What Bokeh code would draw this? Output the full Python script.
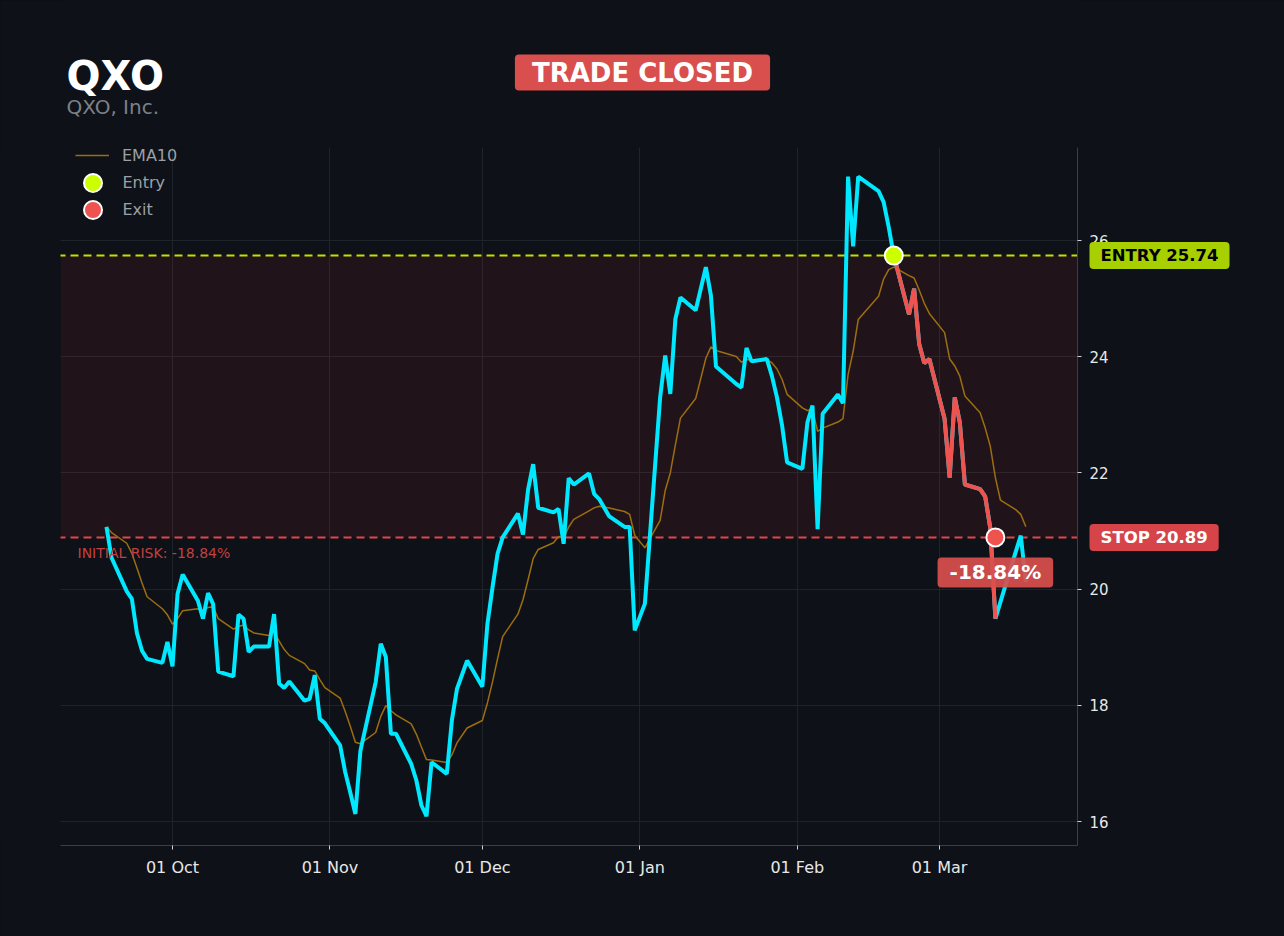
import pandas as pd
from datetime import datetime, timedelta
from bokeh.plotting import figure
from bokeh.models import (ColumnDataSource, Span, BoxAnnotation, Label, Legend, LegendItem,
                          DatetimeTickFormatter, MonthsTicker, SingleIntervalTicker, Range1d)
from bokeh.embed import file_html
from bokeh.resources import INLINE

# ---------------- data ----------------
symbol = "QXO"
company = "QXO, Inc."
status = "TRADE CLOSED"

dates = [
    "2025-09-18", "2025-09-19", "2025-09-22", "2025-09-23", "2025-09-24", "2025-09-25", "2025-09-26",
    "2025-09-29", "2025-09-30", "2025-10-01", "2025-10-02", "2025-10-03",
    "2025-10-06", "2025-10-07", "2025-10-08", "2025-10-09", "2025-10-10",
    "2025-10-13", "2025-10-14", "2025-10-15", "2025-10-16", "2025-10-17",
    "2025-10-20", "2025-10-21", "2025-10-22", "2025-10-23", "2025-10-24",
    "2025-10-27", "2025-10-28", "2025-10-29", "2025-10-30", "2025-10-31",
    "2025-11-03", "2025-11-04", "2025-11-05", "2025-11-06", "2025-11-07",
    "2025-11-10", "2025-11-11", "2025-11-12", "2025-11-13", "2025-11-14",
    "2025-11-17", "2025-11-18", "2025-11-19", "2025-11-20", "2025-11-21",
    "2025-11-24", "2025-11-25", "2025-11-26", "2025-11-28",
    "2025-12-01", "2025-12-02", "2025-12-03", "2025-12-04", "2025-12-05",
    "2025-12-08", "2025-12-09", "2025-12-10", "2025-12-11", "2025-12-12",
    "2025-12-15", "2025-12-16", "2025-12-17", "2025-12-18", "2025-12-19",
    "2025-12-22", "2025-12-23", "2025-12-24", "2025-12-26",
    "2025-12-29", "2025-12-30", "2025-12-31", "2026-01-02",
    "2026-01-05", "2026-01-06", "2026-01-07", "2026-01-08", "2026-01-09",
    "2026-01-12", "2026-01-13", "2026-01-14", "2026-01-15", "2026-01-16",
    "2026-01-20", "2026-01-21", "2026-01-22", "2026-01-23",
    "2026-01-26", "2026-01-27", "2026-01-28", "2026-01-29", "2026-01-30",
    "2026-02-02", "2026-02-03", "2026-02-04", "2026-02-05", "2026-02-06",
    "2026-02-09", "2026-02-10", "2026-02-11", "2026-02-12", "2026-02-13",
    "2026-02-17", "2026-02-18", "2026-02-19", "2026-02-20",
    "2026-02-23", "2026-02-24", "2026-02-25", "2026-02-26", "2026-02-27",
    "2026-03-02", "2026-03-03", "2026-03-04", "2026-03-05", "2026-03-06",
    "2026-03-09", "2026-03-10", "2026-03-11", "2026-03-12", "2026-03-13",
    "2026-03-16", "2026-03-17", "2026-03-18",
]
closes = [
    21.07, 20.54, 19.96, 19.83, 19.24, 18.94, 18.80,
    18.73, 19.09, 18.67, 19.92, 20.25,
    19.80, 19.49, 19.93, 19.74, 18.58,
    18.50, 19.56, 19.49, 18.92, 19.01,
    19.01, 19.57, 18.37, 18.30, 18.41,
    18.08, 18.11, 18.52, 17.77, 17.69,
    17.31, 16.85, 16.50, 16.13, 17.22,
    18.40, 19.06, 18.83, 17.51, 17.51,
    16.99, 16.71, 16.28, 16.09, 17.02,
    16.82, 17.74, 18.28, 18.77,
    18.32, 19.40, 20.03, 20.61, 20.89,
    21.30, 20.94, 21.71, 22.15, 21.40,
    21.32, 21.38, 20.78, 21.91, 21.80,
    21.99, 21.64, 21.55, 21.25,
    21.07, 21.07, 19.29, 19.75,
    23.30, 24.02, 23.36, 24.65, 25.02,
    24.80, 25.17, 25.54, 25.05, 23.83,
    23.53, 23.47, 24.15, 23.92,
    23.96, 23.67, 23.30, 22.82, 22.18,
    22.07, 22.87, 23.16, 21.03, 23.02,
    23.35, 23.20, 27.10, 25.90, 27.10,
    26.85, 26.66, 26.23, 25.74,
    24.73, 25.17, 24.22, 23.89, 23.96,
    22.93, 21.92, 23.30, 22.87, 21.80,
    21.72, 21.59, 21.05, 19.49, 19.78,
    20.64, 20.92, 20.12,
]
entry_date = "2026-02-20"
entry_price = 25.74
exit_date = "2026-03-12"
stop_price = 20.89
initial_risk_pct = -18.84
result_pct = -18.84
ema_span = 10
y_ticks_interval = 2

# ---------------- styles ----------------
BG = "#0e1117"
GRID = "#1f232a"
AXIS = "#3a3f46"
CYAN = "#00e8ff"
RED_LINE = "#ef5350"
EMA_C = "#9c6e10"
LIME = "#ccff00"
ENTRY_LINE = "#c4e000"
ENTRY_BG = "#a8d000"
STOP_LINE = "#e0474c"
STOP_BG = "#d6444a"
BADGE_BG = "#d94f4d"
FONT = "DejaVu Sans"

# ---------------- layout geometry (canvas pixels) ----------------
W, H = 1284, 936
ANCHOR_DATE = datetime(2025, 10, 1)
ANCHOR_PX, PX_PER_DAY = 172.0, 5.0795
ANCHOR_VAL, ANCHOR_PY, PX_PER_UNIT = 26.0, 240.0, 58.1
EPOCH = datetime(1970, 1, 1)


def px_to_date(px):
    return ANCHOR_DATE + timedelta(days=(px - ANCHOR_PX) / PX_PER_DAY)


def py_to_val(py):
    return ANCHOR_VAL + (ANCHOR_PY - py) / PX_PER_UNIT


def ms(d):
    return (d - EPOCH).total_seconds() * 1000.0


x_left, x_right = px_to_date(60), px_to_date(1077)
y_top, y_bot = py_to_val(147), py_to_val(845)

# ---------------- derived series ----------------
dt = pd.to_datetime(dates)
close = pd.Series(closes, index=dt)
ema = close.ewm(span=ema_span, adjust=False).mean()
src = ColumnDataSource(dict(x=dt, close=closes, ema=ema.values))

e_dt = pd.Timestamp(entry_date)
x_dt = pd.Timestamp(exit_date)
mask = (dt >= e_dt) & (dt <= x_dt)
trade_src = ColumnDataSource(dict(x=dt[mask], close=close[mask].values))

p = figure(width=W, height=H, x_axis_type="datetime", y_axis_location="right",
           x_range=Range1d(px_to_date(0), px_to_date(W)),
           y_range=Range1d(py_to_val(H), py_to_val(0)),
           output_backend="svg", toolbar_location=None,
           background_fill_color=BG, border_fill_color=BG, outline_line_color=None,
           min_border=0, min_border_left=0, min_border_right=0,
           min_border_top=0, min_border_bottom=0)

try:
    from bokeh.models import GlobalInlineStyleSheet
    p.stylesheets = [GlobalInlineStyleSheet(
        css="html, body { background-color: #0e1117 !important; margin: 0; padding: 0; overflow: hidden; }")]
except Exception:
    pass

mt = MonthsTicker(months=list(range(12)))
p.xaxis.ticker = mt
p.xgrid.ticker = mt
p.xaxis.formatter = DatetimeTickFormatter(days="%d %b", months="%d %b", years="%d %b")
yt = SingleIntervalTicker(interval=y_ticks_interval, num_minor_ticks=0)
p.yaxis.ticker = yt
p.ygrid.ticker = yt

p.xaxis.fixed_location = y_bot
p.xaxis.bounds = (ms(x_left), ms(x_right))
p.yaxis.fixed_location = ms(x_right)
p.yaxis.bounds = (y_bot, y_top)

for ax in (p.xaxis, p.yaxis):
    ax.axis_line_color = AXIS
    ax.major_tick_line_color = "#cfd2d6"
    ax.major_tick_out = 4
    ax.major_tick_in = 0
    ax.minor_tick_line_color = None
    ax.major_label_text_color = "#e8e8e8"
    ax.major_label_text_font = FONT
    ax.major_label_standoff = 8
p.xaxis.major_label_text_font_size = "16px"
p.yaxis.major_label_text_font_size = "15px"
p.xgrid.grid_line_color = GRID
p.ygrid.grid_line_color = GRID

# risk zone and reference lines
p.add_layout(BoxAnnotation(bottom=stop_price, top=entry_price, left=x_left, right=x_right,
                           fill_color="#ff3b3b", fill_alpha=0.08, line_color=None, level="underlay"))
p.add_layout(Span(location=entry_price, dimension="width", line_color=ENTRY_LINE,
                  line_width=2, line_dash="8 5", line_dash_offset=8, level="underlay"))
p.add_layout(Span(location=stop_price, dimension="width", line_color=STOP_LINE,
                  line_width=2, line_dash="8 5", line_dash_offset=8, level="underlay"))

# masks outside the plotting area (hide grid/span overflow)
for kw in (dict(bottom=y_top), dict(top=y_bot), dict(right=x_left), dict(left=x_right)):
    p.add_layout(BoxAnnotation(fill_color=BG, fill_alpha=1.0, line_color=None, line_alpha=0,
                               level="glyph", **kw))

ema_r = p.line("x", "ema", source=src, line_color=EMA_C, line_width=1.5)
p.line("x", "close", source=src, line_color=CYAN, line_width=4)
p.line("x", "close", source=trade_src, line_color=RED_LINE, line_width=4)

entry_r = p.scatter([e_dt], [entry_price], size=18, fill_color=LIME, line_color="white", line_width=2)
exit_r = p.scatter([x_dt], [stop_price], size=18, fill_color=RED_LINE, line_color="white", line_width=2)

leg_style = dict(orientation="vertical", background_fill_alpha=0, border_line_alpha=0,
                 label_text_color="#9aa0a6", label_text_font=FONT, label_text_font_size="16px",
                 padding=0, margin=0, spacing=0)
p.add_layout(Legend(items=[LegendItem(label="EMA10", renderers=[ema_r])],
                    location=(75, H - 145 - 20), glyph_width=34, glyph_height=20,
                    label_standoff=13, **leg_style))
p.add_layout(Legend(items=[LegendItem(label="Entry", renderers=[entry_r])],
                    location=(69.5, H - 182 - 22.5), glyph_width=45, glyph_height=45,
                    label_standoff=8, **leg_style))
p.add_layout(Legend(items=[LegendItem(label="Exit", renderers=[exit_r])],
                    location=(69.5, H - 209 - 22.5), glyph_width=45, glyph_height=45,
                    label_standoff=8, **leg_style))

# titles
p.add_layout(Label(x=66, y=H - 75, x_units="screen", y_units="screen", text=symbol,
                   text_font=FONT, text_font_style="bold", text_font_size="40px",
                   text_color="white", text_baseline="alphabetic"))
p.add_layout(Label(x=66, y=H - 106, x_units="screen", y_units="screen", text=company,
                   text_font=FONT, text_font_size="20px", text_color="#7d8187",
                   text_baseline="alphabetic"))
p.add_layout(Label(x=642, y=H - 72, x_units="screen", y_units="screen", text=status,
                   text_font=FONT, text_font_style="bold", text_font_size="26px",
                   text_color="white", text_align="center", text_baseline="middle",
                   background_fill_color=BADGE_BG, padding=(17, 3), border_radius=4))

# right side price labels
p.add_layout(Label(x=1089, y=entry_price, x_units="screen", text=f"ENTRY {entry_price:.2f}",
                   text_font=FONT, text_font_style="bold", text_font_size="16.5px",
                   text_color="black", text_align="left", text_baseline="middle",
                   background_fill_color=ENTRY_BG, padding=(11, 4), border_radius=4))
p.add_layout(Label(x=1089, y=stop_price, x_units="screen", text=f"STOP {stop_price:.2f}",
                   text_font=FONT, text_font_style="bold", text_font_size="16.5px",
                   text_color="white", text_align="left", text_baseline="middle",
                   background_fill_color=STOP_BG, padding=(11, 4), border_radius=4))

# risk text and result badge
p.add_layout(Label(x=77, y=stop_price, x_units="screen", y_offset=-16,
                   text=f"INITIAL RISK: {initial_risk_pct:.2f}%",
                   text_font=FONT, text_font_size="14px", text_color="#c2403f",
                   text_align="left", text_baseline="middle"))
p.add_layout(Label(x=x_dt, y=stop_price, y_offset=-35, text=f"{result_pct:.2f}%",
                   text_font=FONT, text_font_style="bold", text_font_size="20px",
                   text_color="white", text_align="center", text_baseline="middle",
                   background_fill_color=BADGE_BG, background_fill_alpha=0.92,
                   padding=(12, 3), border_radius=4))

open("out.html", "w").write(file_html(p, INLINE))
